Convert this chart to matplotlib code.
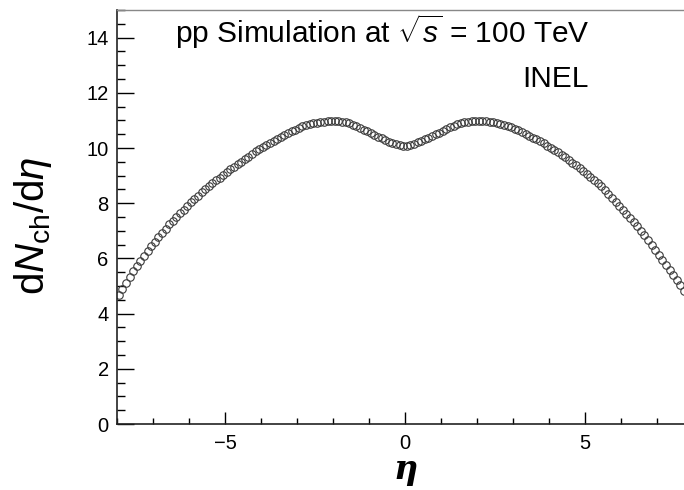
import numpy as np
import matplotlib
matplotlib.use("Agg")
import matplotlib.pyplot as plt
from matplotlib.ticker import MultipleLocator, FuncFormatter

matplotlib.rcParams['font.family'] = ['Liberation Sans', 'DejaVu Sans']
matplotlib.rcParams['mathtext.fontset'] = 'custom'
matplotlib.rcParams['mathtext.rm'] = 'Liberation Sans'
matplotlib.rcParams['mathtext.it'] = 'Liberation Sans:italic'
matplotlib.rcParams['mathtext.bf'] = 'Liberation Sans:bold'

# ── histogram binning (160 bins over |eta| < 8) ─────────────────
eta_min, eta_max, n_bins = -8.0, 8.0, 160

# ── dNch/deta, one value per bin ────────────────────────────────
dndeta_neg = [
    4.67, 4.90, 5.12, 5.33, 5.53, 5.72, 5.91, 6.09, 6.27, 6.44,
    6.61, 6.77, 6.93, 7.08, 7.23, 7.37, 7.51, 7.64, 7.77, 7.90,
    8.03, 8.15, 8.27, 8.39, 8.50, 8.61, 8.72, 8.83, 8.93, 9.03,
    9.13, 9.23, 9.32, 9.41, 9.50, 9.59, 9.68, 9.80, 9.88, 9.96,
    10.04, 10.11, 10.18, 10.25, 10.32, 10.39, 10.46, 10.53, 10.60, 10.66,
    10.72, 10.78, 10.83, 10.87, 10.90, 10.92, 10.94, 10.96, 10.98, 10.99,
    10.99, 10.98, 10.96, 10.93, 10.89, 10.84, 10.79, 10.73, 10.67, 10.61,
    10.54, 10.47, 10.41, 10.35, 10.29, 10.23, 10.18, 10.14, 10.11, 10.09,
]
dndeta_pos = [
    10.09, 10.11, 10.15, 10.20, 10.26, 10.32, 10.38, 10.44, 10.50, 10.56,
    10.63, 10.69, 10.75, 10.81, 10.86, 10.90, 10.93, 10.96, 10.98, 10.99,
    10.99, 10.98, 10.97, 10.95, 10.93, 10.91, 10.88, 10.84, 10.80, 10.75,
    10.70, 10.64, 10.58, 10.52, 10.45, 10.38, 10.31, 10.24, 10.17, 10.09,
    10.01, 9.93, 9.84, 9.75, 9.66, 9.57, 9.47, 9.37, 9.27, 9.17,
    9.06, 8.95, 8.84, 8.73, 8.61, 8.47, 8.33, 8.19, 8.05, 7.91,
    7.77, 7.62, 7.47, 7.32, 7.16, 7.00, 6.83, 6.66, 6.49, 6.31,
    6.13, 5.95, 5.77, 5.59, 5.40, 5.21, 5.02, 4.83, 4.64, 4.45,
]

edges = np.linspace(eta_min, eta_max, n_bins + 1)
eta = 0.5 * (edges[:-1] + edges[1:])
dndeta = np.array(dndeta_neg + dndeta_pos)

W, H = 684, 490
fig = plt.figure(figsize=(W / 100, H / 100), dpi=100)
# frame runs past the right edge, as in the cropped original
ax = fig.add_axes([117 / W, 66 / H, 576 / W, 414 / H])

ax.plot(eta, dndeta, linestyle='none', marker='o', markersize=5.4,
        markerfacecolor='none', markeredgecolor='#3a3a3a',
        markeredgewidth=0.8)

ax.set_xlim(eta_min, eta_max)
ax.set_ylim(0, 15)

ax.xaxis.set_major_locator(MultipleLocator(5))
ax.xaxis.set_minor_locator(MultipleLocator(1))
ax.yaxis.set_major_locator(MultipleLocator(2))
ax.yaxis.set_minor_locator(MultipleLocator(0.5))
ax.tick_params(axis='x', which='major', direction='in', length=8.5,
               width=1.0, labelsize=14.5, pad=7, top=False)
ax.tick_params(axis='x', which='minor', direction='in', length=4.3,
               width=1.0, top=False)
ax.tick_params(axis='y', which='major', direction='in', length=12,
               width=1.0, labelsize=14.5, pad=6, right=False)
ax.tick_params(axis='y', which='minor', direction='in', length=6,
               width=1.0, right=False)
ax.xaxis.set_major_formatter(
    FuncFormatter(lambda v, p: f"{v:g}".replace('-', '\u2212')))

for s in ['left', 'bottom']:
    ax.spines[s].set_linewidth(1.2)
    ax.spines[s].set_color('#222222')
ax.spines['top'].set_color('#888888')
ax.spines['top'].set_linewidth(1.0)
ax.spines['right'].set_visible(False)

ax.text(0.100, 0.920, r'pp Simulation at $\sqrt{s}$ = 100 TeV',
        transform=ax.transAxes, fontsize=21.5, va='baseline', ha='left')
ax.text(0.703, 0.814, 'INEL', transform=ax.transAxes, fontsize=21.5,
        va='baseline', ha='left')

fig.text(33 / W, 1 - 226 / H, r'$\mathrm{d}N_{\mathrm{ch}}/\mathrm{d}\eta$',
         rotation=90, fontsize=29, ha='center', va='center')
fig.text(406 / W, 1 - 479 / H, '\u03b7', fontsize=24, ha='center',
         va='baseline', family='DejaVu Serif', style='italic', weight='bold')

fig.savefig('out.png', dpi=100)
